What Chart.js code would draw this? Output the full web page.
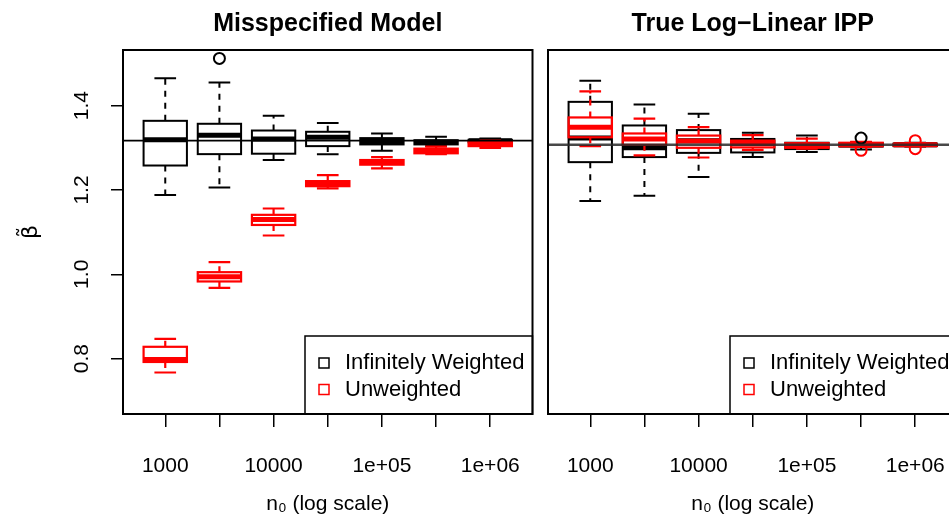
<!DOCTYPE html>
<html>
<head>
<meta charset="utf-8">
<script src="https://cdn.jsdelivr.net/npm/chart.js@4.4.0/dist/chart.umd.min.js"></script>
<style>
  html, body { margin: 0; padding: 0; background: #fff; overflow: hidden; width: 949px; height: 517px; }
  canvas { position: absolute; top: 0; }
  #leftPanel { left: 0; }
  #rightPanel { left: 425px; }
</style>
</head>
<body>
<canvas id="leftPanel" width="540" height="517"></canvas>
<canvas id="rightPanel" width="540" height="517"></canvas>
<script>
// Box positions on the x axis (n0 = 1000 ... 1e+06, half-decade steps)
const positions = [1, 2, 3, 4, 5, 6, 7];
const xTickLabels = ['1000', '', '10000', '', '1e+05', '', '1e+06'];
const yTicks = [0.8, 1.0, 1.2, 1.4];
const legendNames = ['Infinitely Weighted', 'Unweighted'];
const seriesColors = ['#000000', '#ff0000'];
const panelTitles = ['Misspecified Model', 'True Log\u2212Linear IPP'];

// Misspecified model - infinitely weighted
const misWeightedLow = [1.188, 1.206, 1.271, 1.285, 1.293, 1.304, 1.311];
const misWeightedQ1 = [1.258, 1.285, 1.286, 1.304, 1.308, 1.308, 1.313];
const misWeightedMed = [1.319, 1.330, 1.321, 1.325, 1.315, 1.313, 1.317];
const misWeightedQ3 = [1.364, 1.357, 1.341, 1.338, 1.323, 1.318, 1.319];
const misWeightedHigh = [1.465, 1.455, 1.376, 1.359, 1.334, 1.326, 1.322];
const misWeightedOut = [{ x: 2, y: 1.512 }];

// Misspecified model - unweighted
const misUnweightedLow = [0.767, 0.968, 1.092, 1.204, 1.251, 1.285, 1.300];
const misUnweightedQ1 = [0.792, 0.983, 1.117, 1.209, 1.260, 1.287, 1.304];
const misUnweightedMed = [0.798, 0.994, 1.130, 1.215, 1.266, 1.293, 1.309];
const misUnweightedQ3 = [0.828, 1.005, 1.141, 1.221, 1.271, 1.298, 1.314];
const misUnweightedHigh = [0.847, 1.029, 1.156, 1.235, 1.278, 1.303, 1.317];
const misUnweightedOut = [];

// True log-linear IPP - infinitely weighted
const trueWeightedLow = [1.174, 1.186, 1.231, 1.278, 1.290, 1.296, 1.303];
const trueWeightedQ1 = [1.266, 1.278, 1.288, 1.289, 1.297, 1.303, 1.304];
const trueWeightedMed = [1.323, 1.300, 1.317, 1.311, 1.303, 1.307, 1.307];
const trueWeightedQ3 = [1.409, 1.353, 1.342, 1.321, 1.312, 1.311, 1.310];
const trueWeightedHigh = [1.459, 1.403, 1.381, 1.336, 1.329, 1.313, 1.312];
const trueWeightedOut = [{ x: 6, y: 1.323 }];

// True log-linear IPP - unweighted
const trueUnweightedLow = [1.304, 1.282, 1.277, 1.295, 1.298, 1.302, 1.304];
const trueUnweightedQ1 = [1.325, 1.307, 1.300, 1.301, 1.300, 1.304, 1.305];
const trueUnweightedMed = [1.349, 1.321, 1.316, 1.311, 1.306, 1.307, 1.307];
const trueUnweightedQ3 = [1.372, 1.334, 1.329, 1.317, 1.311, 1.312, 1.309];
const trueUnweightedHigh = [1.434, 1.369, 1.349, 1.330, 1.322, 1.314, 1.311];
const trueUnweightedOut = [{ x: 6, y: 1.294 }, { x: 7, y: 1.317 }, { x: 7, y: 1.298 }];

// True beta reference lines
const misTrueBeta = 1.317;
const trueTrueBeta = 1.307;

const FONT = "'Liberation Sans', Arial, Helvetica, sans-serif";
Chart.defaults.font.family = FONT;
Chart.defaults.color = '#000';

// Draws boxes / whiskers / medians through the chart scales
const boxPlotPlugin = {
    id: 'boxPlots',
    beforeDatasetsDraw(chart, args, opts) {
        const { ctx, scales: { x, y } } = chart;
        ctx.save();
        ctx.beginPath();
        ctx.rect(chart.chartArea.left, chart.chartArea.top, chart.chartArea.width, chart.chartArea.height);
        ctx.clip();
        opts.groups.forEach(g => {
            ctx.strokeStyle = g.color;
            positions.forEach((p, i) => {
                const cx = x.getPixelForValue(p);
                const bl = x.getPixelForValue(p - 0.4);
                const br = x.getPixelForValue(p + 0.4);
                const sl = x.getPixelForValue(p - 0.2);
                const sr = x.getPixelForValue(p + 0.2);
                const yLow = y.getPixelForValue(g.low[i]);
                const yQ1 = y.getPixelForValue(g.q1[i]);
                const yMed = y.getPixelForValue(g.med[i]);
                const yQ3 = y.getPixelForValue(g.q3[i]);
                const yHigh = y.getPixelForValue(g.high[i]);

                // whiskers (dashed)
                ctx.lineWidth = g.lineWidth;
                ctx.setLineDash([6, 6]);
                ctx.beginPath();
                ctx.moveTo(cx, yQ3); ctx.lineTo(cx, yHigh);
                ctx.moveTo(cx, yQ1); ctx.lineTo(cx, yLow);
                ctx.stroke();
                ctx.setLineDash([]);

                // staples
                ctx.beginPath();
                ctx.moveTo(sl, yHigh); ctx.lineTo(sr, yHigh);
                ctx.moveTo(sl, yLow); ctx.lineTo(sr, yLow);
                ctx.stroke();

                // box
                ctx.strokeRect(bl, yQ3, br - bl, yQ1 - yQ3);

                // median
                ctx.lineWidth = g.medianWidth;
                ctx.beginPath();
                ctx.moveTo(bl, yMed); ctx.lineTo(br, yMed);
                ctx.stroke();
            });
        });
        ctx.restore();
    },
    afterDatasetsDraw(chart, args, opts) {
        const { ctx, chartArea, scales: { y } } = chart;
        const yRef = y.getPixelForValue(opts.refValue);
        ctx.save();
        ctx.strokeStyle = opts.refColor;
        ctx.lineWidth = opts.refWidth;
        ctx.beginPath();
        ctx.moveTo(chartArea.left, yRef);
        ctx.lineTo(chartArea.right, yRef);
        ctx.stroke();
        ctx.restore();
    },
    afterDraw(chart, args, opts) {
        const { ctx, chartArea } = chart;
        ctx.save();
        // legend box in the bottom right corner
        const lx = chartArea.left + 182;
        const ly = chartArea.bottom - 78;
        ctx.fillStyle = '#fff';
        ctx.fillRect(lx, ly, chartArea.right - lx, chartArea.bottom - ly);
        ctx.strokeStyle = '#000';
        ctx.lineWidth = 1.5;
        ctx.strokeRect(lx, ly, chartArea.right - lx, chartArea.bottom - ly);
        ctx.font = '22px ' + FONT;
        ctx.textBaseline = 'middle';
        legendNames.forEach((name, i) => {
            const ty = ly + 27 + i * 26.5;
            ctx.strokeStyle = seriesColors[i];
            ctx.lineWidth = 1.5;
            ctx.strokeRect(lx + 14, ty - 5, 10, 10);
            ctx.fillStyle = '#000';
            ctx.fillText(name, lx + 40, ty);
        });

        // plot frame
        ctx.strokeStyle = '#000';
        ctx.lineWidth = 2;
        ctx.strokeRect(chartArea.left, chartArea.top, chartArea.width, chartArea.height);

        // panel title over the plot area
        ctx.font = 'bold 25px ' + FONT;
        ctx.textAlign = 'center';
        ctx.textBaseline = 'middle';
        ctx.fillStyle = '#000';
        ctx.fillText(opts.title, (chartArea.left + chartArea.right) / 2, 24);
        ctx.restore();
    }
};

function makePanel(canvasId, cfg) {
    const ctx = document.getElementById(canvasId).getContext('2d');
    return new Chart(ctx, {
        type: 'scatter',
        data: {
            datasets: cfg.outliers.map((pts, i) => ({
                label: legendNames[i],
                data: pts,
                borderColor: seriesColors[i],
                backgroundColor: 'rgba(0,0,0,0)',
                borderWidth: 2,
                pointRadius: 5.5,
                pointStyle: 'circle'
            }))
        },
        options: {
            responsive: false,
            animation: false,
            layout: { padding: { top: 50, right: 7, left: 0, bottom: 0 } },
            scales: {
                x: {
                    type: 'linear',
                    min: 0.22,
                    max: 7.78,
                    afterFit: (scale) => {
                        scale.height = 103;
                        scale.paddingLeft = 0;
                        scale.paddingRight = 0;
                    },
                    afterBuildTicks: (scale) => { scale.ticks = positions.map(v => ({ value: v })); },
                    border: { display: false },
                    grid: { drawOnChartArea: false, drawTicks: true, tickLength: 13, color: '#000', lineWidth: 1.5 },
                    ticks: {
                        autoSkip: false,
                        maxRotation: 0,
                        padding: 27,
                        font: { size: 21 },
                        callback: (v, i) => xTickLabels[i]
                    },
                    title: {
                        display: true,
                        text: 'n\u2080 (log scale)',
                        font: { size: 21 },
                        padding: { top: 0, bottom: 0 }
                    }
                },
                y: {
                    type: 'linear',
                    min: 0.6686,
                    max: 1.532,
                    afterFit: (scale) => {
                        scale.width = 123;
                        scale.paddingTop = 0;
                        scale.paddingBottom = 0;
                    },
                    afterBuildTicks: (scale) => { scale.ticks = yTicks.map(v => ({ value: v })); },
                    border: { display: false },
                    grid: { display: cfg.showY, drawOnChartArea: false, drawTicks: true, tickLength: 12, color: '#000', lineWidth: 1.5 },
                    ticks: {
                        display: cfg.showY,
                        minRotation: 90,
                        maxRotation: 90,
                        crossAlign: 'center',
                        padding: 14,
                        font: { size: 21 },
                        callback: (v) => v.toFixed(1)
                    },
                    title: {
                        display: cfg.showY,
                        text: '\u03b2\u0303',
                        font: { size: 22, family: "'DejaVu Sans', sans-serif" },
                        padding: { top: 18, bottom: 0 }
                    }
                }
            },
            plugins: {
                legend: { display: false },
                tooltip: { enabled: false },
                boxPlots: {
                    groups: cfg.groups,
                    refValue: cfg.refValue,
                    refColor: cfg.refColor,
                    refWidth: cfg.refWidth,
                    title: cfg.title
                }
            }
        },
        plugins: [boxPlotPlugin]
    });
}

makePanel('leftPanel', {
    title: panelTitles[0],
    showY: true,
    refValue: misTrueBeta,
    refColor: '#000',
    refWidth: 1.7,
    outliers: [misWeightedOut, misUnweightedOut],
    groups: [
        { color: seriesColors[0], lineWidth: 2, medianWidth: 5, low: misWeightedLow, q1: misWeightedQ1, med: misWeightedMed, q3: misWeightedQ3, high: misWeightedHigh },
        { color: seriesColors[1], lineWidth: 2.2, medianWidth: 5, low: misUnweightedLow, q1: misUnweightedQ1, med: misUnweightedMed, q3: misUnweightedQ3, high: misUnweightedHigh }
    ]
});

makePanel('rightPanel', {
    title: panelTitles[1],
    showY: false,
    refValue: trueTrueBeta,
    refColor: 'rgba(40,40,40,0.85)',
    refWidth: 2.5,
    outliers: [trueWeightedOut, trueUnweightedOut],
    groups: [
        { color: seriesColors[0], lineWidth: 2, medianWidth: 5, low: trueWeightedLow, q1: trueWeightedQ1, med: trueWeightedMed, q3: trueWeightedQ3, high: trueWeightedHigh },
        { color: seriesColors[1], lineWidth: 2.2, medianWidth: 5, low: trueUnweightedLow, q1: trueUnweightedQ1, med: trueUnweightedMed, q3: trueUnweightedQ3, high: trueUnweightedHigh }
    ]
});
</script>
</body>
</html>
